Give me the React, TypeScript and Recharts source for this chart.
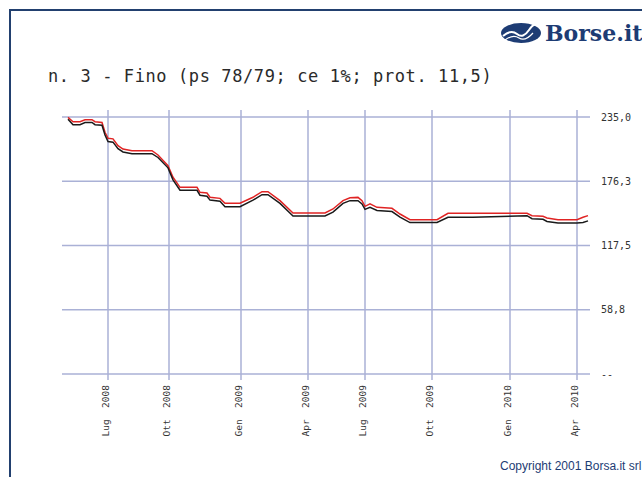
import { LineChart, Line, XAxis, YAxis, CartesianGrid } from "recharts";

// trading-session index along the x axis
const sessions = [
  6, 11, 18, 23, 30, 33, 40, 43, 46, 51, 56, 61, 70, 90, 96, 106, 111, 118, 135, 138,
  145, 148, 158, 163, 178, 191, 200, 206, 218, 231, 263, 271, 281, 288, 296, 300, 303,
  308, 315, 330, 338, 348, 375, 386, 411, 465, 470, 481, 485, 496, 515, 521, 526,
];
const redValues = [
  234.7, 230.7, 230.7, 232.5, 232.5, 230.7, 230, 221, 215.5, 215, 208.8, 205.7, 204.2,
  204.2, 200.3, 190.5, 179.9, 170.7, 170.7, 166.1, 165.5, 161.6, 160.6, 156.1, 156.1,
  161.6, 166.7, 166.7, 158.5, 147.2, 147.2, 150.9, 158.5, 161.2, 161.5, 158.5, 153.3,
  155.5, 152.4, 151.5, 146.3, 141.1, 141.1, 146.9, 146.9, 146.9, 144.8, 144.2, 142.6,
  141.1, 141.1, 143.3, 144.8,
];
const blackValues = [
  233, 228, 228, 230, 230, 228, 227.5, 218.5, 212.5, 212, 206, 203, 201.5, 201.5, 198,
  188.5, 177.5, 168, 168, 163.5, 162.5, 159, 158, 153, 153, 159, 164, 164, 156, 144.5,
  144.5, 148, 156, 158.5, 158.5, 155.5, 150.5, 152.5, 149.5, 148.5, 143.5, 138.5, 138.5,
  143.3, 143.3, 144.8, 142, 141.5, 139.5, 138, 138, 138.5, 140,
];

const tickSessions = [46, 107, 179, 246, 303, 370, 448, 515];
const tickLabels = [
  "Lug 2008", "Ott 2008", "Gen 2009", "Apr 2009",
  "Lug 2009", "Ott 2009", "Gen 2010", "Apr 2010",
];
const yTicks = [0, 58.75, 117.5, 176.25, 235];

const data = sessions.map((s, i) => ({ s, red: redValues[i], black: blackValues[i] }));

const MONO = "'DejaVu Sans Mono', monospace";

function MonthTick(props: any) {
  const { x, y, payload } = props;
  const idx = tickSessions.indexOf(payload.value);
  const label = (tickLabels[idx] || "").replace(" ", "\u00a0\u00a0");
  return (
    <text
      transform={`translate(${x},${y}) rotate(-90)`}
      textAnchor="end"
      dy={1}
      fontFamily={MONO}
      fontSize={9.5}
      fill="#333"
    >
      {label}
    </text>
  );
}

function Logo() {
  return (
    <div style={{ position: "absolute", left: 499, top: 20, display: "flex", alignItems: "center" }}>
      <svg width={44} height={24}>
        <ellipse cx={22} cy={12} rx={20} ry={10} fill="#1d3c74" />
        <path d="M4 15 Q12 8 18 13 T30 9 T40 6" stroke="#fff" strokeWidth={2} fill="none" />
        <path d="M6 19 Q14 13 20 17 T34 12" stroke="#fff" strokeWidth={1.2} fill="none" />
      </svg>
      <span
        style={{
          fontFamily: "'DejaVu Serif', serif",
          fontWeight: "bold",
          fontSize: 22,
          color: "#1d3c74",
          marginLeft: 2,
        }}
      >
        Borse.it
      </span>
    </div>
  );
}

export default function App() {
  return (
    <div
      style={{
        position: "absolute",
        left: 0,
        top: 0,
        width: 642,
        height: 477,
        background: "#fff",
        overflow: "hidden",
      }}
    >
      <div
        style={{
          position: "absolute",
          left: 9,
          top: 9,
          width: 700,
          height: 520,
          borderTop: "2px solid #22406f",
          borderLeft: "2px solid #22406f",
        }}
      />
      <Logo />
      <div
        style={{
          position: "absolute",
          left: 48,
          top: 66,
          fontFamily: MONO,
          fontSize: 17,
          letterSpacing: 0.6,
          color: "#2a2a2a",
          whiteSpace: "pre",
        }}
      >
        n. 3 - Fino (ps 78/79; ce 1%; prot. 11,5)
      </div>
      <div style={{ position: "absolute", left: 0, top: 0 }}>
        <LineChart
          width={642}
          height={477}
          data={data}
          margin={{ top: 110, left: 62, right: 7, bottom: 37 }}
        >
          <CartesianGrid stroke="#aab1d6" strokeWidth={1.5} syncWithTicks />
          <XAxis
            type="number"
            dataKey="s"
            domain={[0, 528]}
            ticks={tickSessions}
            interval={0}
            tick={<MonthTick />}
            tickLine={false}
            axisLine={false}
            tickSize={0}
            tickMargin={5}
            height={60}
          />
          <YAxis
            orientation="right"
            domain={[0, 235]}
            ticks={yTicks}
            interval={0}
            padding={{ top: 7, bottom: 6 }}
            tickFormatter={(v: number) => (v === 0 ? "--" : v.toFixed(1).replace(".", ","))}
            tick={{ fontFamily: MONO, fontSize: 10, fill: "#333" }}
            tickLine={false}
            axisLine={false}
            tickSize={0}
            tickMargin={11}
            width={45}
          />
          <Line
            type="linear"
            dataKey="red"
            stroke="#e02424"
            strokeWidth={1.5}
            dot={false}
            isAnimationActive={false}
          />
          <Line
            type="linear"
            dataKey="black"
            stroke="#1a1a1a"
            strokeWidth={1.5}
            dot={false}
            isAnimationActive={false}
          />
        </LineChart>
      </div>
      <div
        style={{
          position: "absolute",
          left: 500,
          top: 459,
          fontFamily: "'Liberation Sans', Arial, sans-serif",
          fontSize: 12,
          color: "#1d3c74",
          whiteSpace: "nowrap",
        }}
      >
        Copyright 2001 Borsa.it srl
      </div>
    </div>
  );
}
